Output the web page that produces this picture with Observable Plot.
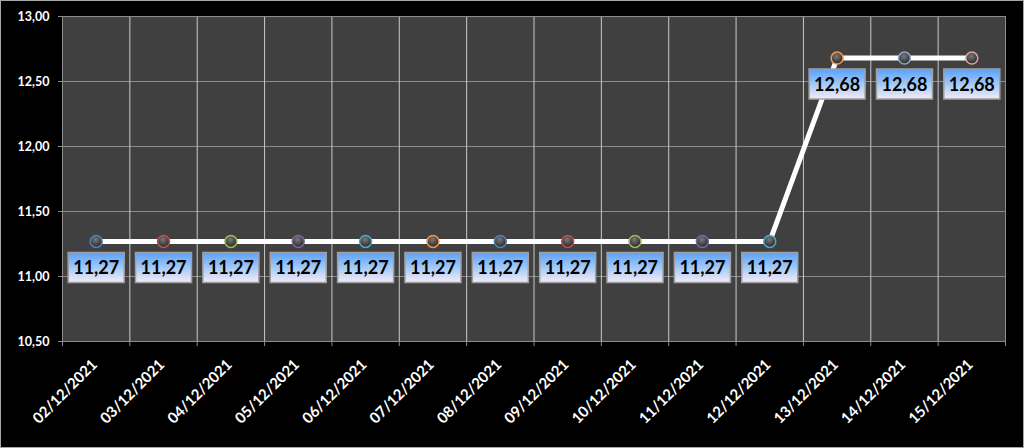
<!DOCTYPE html>
<html><head><meta charset="utf-8">
<script src="https://cdn.jsdelivr.net/npm/d3@7"></script>
<script src="https://cdn.jsdelivr.net/npm/@observablehq/plot@0.6"></script>
<style>
body{margin:0;background:#000}
#c svg{display:block;outline:1px solid #a6a6a6;outline-offset:-1px}
</style>
</head><body><div id="c"></div>
<script>
const dates = ["02/12/2021","03/12/2021","04/12/2021","05/12/2021","06/12/2021","07/12/2021","08/12/2021","09/12/2021","10/12/2021","11/12/2021","12/12/2021","13/12/2021","14/12/2021","15/12/2021"];
const values = [11.27,11.27,11.27,11.27,11.27,11.27,11.27,11.27,11.27,11.27,11.27,12.68,12.68,12.68];
const yTicks = [10.5,11,11.5,12,12.5,13];
const ringColors = ["#4F81BD","#C0504D","#9BBB59","#8064A2","#4BACC6","#F79646","#4F81BD","#C0504D","#9BBB59","#8064A2","#4BACC6","#F79646","#8FA6C8","#D9A3A1"];

const fmt = v => d3.format(".2f")(v).replace(".", ",");
const data = dates.map((d, i) => ({date: d, idx: i + 0.5, value: values[i], color: ringColors[i]}));
const boundaries = d3.range(0, dates.length + 1);

const boxSymbol = {draw(ctx){ctx.moveTo(-28,-15);ctx.lineTo(28,-15);ctx.lineTo(28,15);ctx.lineTo(-28,15);ctx.closePath();}};

const defs = () => {
  const d = d3.create("svg:defs");
  const lg = d.append("linearGradient").attr("id","labgrad").attr("x1",0).attr("y1",0).attr("x2",0).attr("y2",1);
  lg.append("stop").attr("offset","0%").attr("stop-color","#5aa0f8");
  lg.append("stop").attr("offset","55%").attr("stop-color","#a9cdf6");
  lg.append("stop").attr("offset","100%").attr("stop-color","#f6ebf6");
  const rg = d.append("radialGradient").attr("id","ball").attr("cx","45%").attr("cy","35%").attr("r","65%");
  rg.append("stop").attr("offset","0%").attr("stop-color","#7a7a7a");
  rg.append("stop").attr("offset","100%").attr("stop-color","#262626");
  return d.node();
};

const chart = Plot.plot({
  width: 1024, height: 448,
  marginLeft: 62, marginRight: 19, marginTop: 16, marginBottom: 107,
  x: {type: "linear", domain: [0, dates.length], axis: null},
  y: {domain: [10.5, 13], axis: null},
  color: {type: "identity"},
  style: {background: "#000", color: "#fff", fontFamily: "Lato, 'Open Sans', sans-serif", fontWeight: "bold", overflow: "visible"},
  marks: [
    defs,
    Plot.frame({fill: "#404040"}),
    Plot.gridY(yTicks, {stroke: "#8c8c8c", strokeOpacity: 1, strokeWidth: 1}),
    Plot.gridX(boundaries.slice(1, -1), {stroke: "#c8c8c8", strokeOpacity: 1, strokeWidth: 1}),
    Plot.frame({stroke: "#8c8c8c"}),
    Plot.axisY(yTicks, {label: null, tickSize: 4, tickPadding: 9, tickFormat: fmt, fontSize: 12.5, fontWeight: "bold", fill: "#fff", stroke: "#8c8c8c"}),
    Plot.axisX(boundaries, {label: null, tickSize: 5, tickFormat: () => "", stroke: "#8c8c8c"}),
    Plot.text(data, {x: "idx", frameAnchor: "bottom", text: "date", rotate: -45, textAnchor: "end", dx: 2, dy: 24, fill: "#fff", fontSize: 15, fontWeight: "bold"}),
    Plot.line(data, {x: "idx", y: "value", stroke: "#fff", strokeWidth: 5}),
    Plot.dot(data, {x: "idx", y: "value", r: 6, fill: "url(#ball)", stroke: "color", strokeWidth: 1.5}),
    Plot.dot(data, {x: "idx", y: "value", symbol: boxSymbol, fill: "url(#labgrad)", stroke: "#a0a0a0", strokeWidth: 1.5, dy: 26}),
    Plot.text(data, {x: "idx", y: "value", text: d => fmt(d.value), dy: 27, fill: "#000", fontSize: 18, fontWeight: "bold"})
  ]
});
document.getElementById("c").append(chart);
</script>
</body></html>
